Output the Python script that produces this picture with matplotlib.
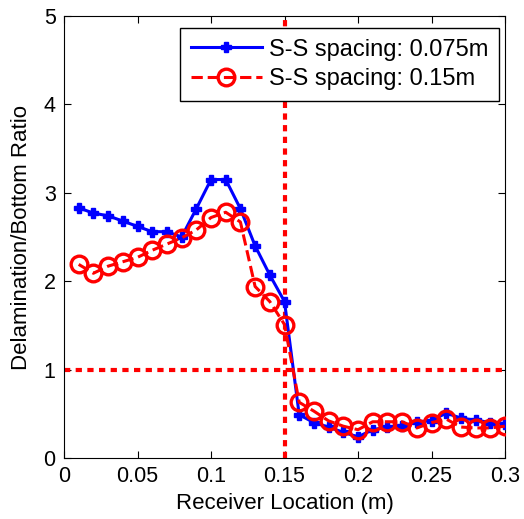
"""Delamination/bottom ratio versus receiver location."""
import matplotlib
matplotlib.use('Agg')
import matplotlib.pyplot as plt

###############################################################################
# DATA :
location = [0.01 * i for i in range(1, 31)]
ratio_0075 = [2.83, 2.77, 2.74, 2.68, 2.62, 2.56, 2.56, 2.50, 2.82, 3.15,
              3.15, 2.82, 2.40, 2.07, 1.77, 0.49, 0.40, 0.35, 0.29, 0.24,
              0.32, 0.35, 0.36, 0.41, 0.42, 0.51, 0.45, 0.43, 0.40, 0.39]
ratio_015 = [2.19, 2.09, 2.17, 2.22, 2.27, 2.35, 2.42, 2.49, 2.58, 2.72,
             2.78, 2.67, 1.94, 1.77, 1.51, 0.63, 0.53, 0.42, 0.36, 0.32,
             0.41, 0.41, 0.41, 0.34, 0.40, 0.44, 0.35, 0.34, 0.34, 0.36]
labels = ['S-S spacing: 0.075m', 'S-S spacing: 0.15m']
x_ticks = [0, 0.05, 0.1, 0.15, 0.2, 0.25, 0.3]
x_tick_labels = ['0', '0.05', '0.1', '0.15', '0.2', '0.25', '0.3']
threshold_x = 0.15
threshold_y = 1

###############################################################################
# PLOT :
plt.rcParams['font.family'] = ['Liberation Sans', 'DejaVu Sans']
fig = plt.figure(figsize=(5.24, 5.19), dpi=100)
ax = fig.add_axes([64 / 524, 1 - 458 / 519, 441 / 524, 442 / 519])

ax.plot(location, ratio_0075, '-', color='#0000ff', lw=2.2, marker='P',
        ms=7.5, label=labels[0], zorder=3)
ax.plot(location, ratio_015, '--', color='#ff0000', lw=2.2, marker='o',
        ms=12, mfc='none', mew=2.4, label=labels[1], zorder=4)
ax.axvline(threshold_x, color='#ff0000', ls=(0, (1.5, 1.3)), lw=3, zorder=2)
ax.axhline(threshold_y, color='#ff0000', ls=(0, (1.5, 1.3)), lw=3, zorder=2)

ax.set_xlim(0, 0.3)
ax.set_ylim(0, 5)
ax.set_xticks(x_ticks)
ax.set_xticklabels(x_tick_labels)
ax.set_yticks(range(6))
ax.tick_params(direction='in', top=True, right=True, labelsize=15.5,
               length=5, pad=6)
ax.set_xlabel('Receiver Location (m)', fontsize=16, labelpad=4)
ax.set_ylabel('Delamination/Bottom Ratio', fontsize=16, labelpad=8)
leg = ax.legend(loc='upper right', fontsize=17, fancybox=False,
                edgecolor='black', framealpha=1, handlelength=3.0,
                handletextpad=0.3, borderpad=0.45, labelspacing=0.33,
                borderaxespad=0, bbox_to_anchor=(0.986, 0.973))
leg.get_frame().set_linewidth(1)

fig.savefig('out.png', dpi=100)
